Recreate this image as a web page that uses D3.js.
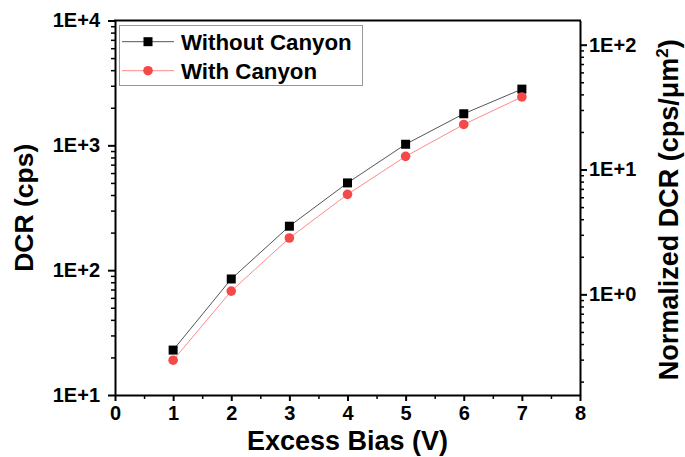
<!DOCTYPE html>
<html><head><meta charset="utf-8">
<script src="https://cdn.jsdelivr.net/npm/d3@7"></script>
<style>body{margin:0;background:#fff}svg{display:block}text{font-family:"Liberation Sans",Arial,sans-serif;font-weight:bold;fill:#000}</style>
</head><body>
<script>
const biasV = [1, 2, 3, 4, 5, 6, 7];
const dcrWithout = [22.9, 85, 225, 500, 1020, 1790, 2820];
const dcrWith = [19.0, 68, 181, 405, 816, 1470, 2440];
const seriesNames = ["Without Canyon", "With Canyon"];
const xTicks = [0, 1, 2, 3, 4, 5, 6, 7, 8];
const leftTicks = [10, 100, 1000, 10000];
const rightTicks = [1, 10, 100];
const areaUm2 = 64;

const W = 685, H = 457;
const m = {l: 115, r: 105, t: 20.5, b: 62};
const svg = d3.select("body").append("svg").attr("width", W).attr("height", H);

const x = d3.scaleLinear().domain([0, 8]).range([m.l, W - m.r]);
const y = d3.scaleLog().domain([10, 10000]).range([H - m.b, m.t]);
const y2 = d3.scaleLog().domain([10 / areaUm2, 10000 / areaUm2]).range([H - m.b, m.t]);

function minorLog(scale) {
  const [a, b] = scale.domain();
  const out = [];
  for (let e = Math.floor(Math.log10(a)); e <= Math.ceil(Math.log10(b)); e++) {
    for (let k = 2; k <= 9; k++) {
      const v = k * Math.pow(10, e);
      if (v >= a && v <= b) out.push(v);
    }
  }
  return out;
}
const fmtE = v => "1E" + (Math.log10(v) >= 0 ? "+" : "") + Math.round(Math.log10(v));

// minor ticks
svg.append("g").attr("transform", `translate(${m.l},0)`)
  .call(d3.axisLeft(y).tickValues(minorLog(y)).tickSize(4).tickFormat(""))
  .call(g => g.select(".domain").remove())
  .selectAll("line").attr("stroke-width", 1.5);
svg.append("g").attr("transform", `translate(${W - m.r},0)`)
  .call(d3.axisRight(y2).tickValues(minorLog(y2)).tickSize(4).tickFormat(""))
  .call(g => g.select(".domain").remove())
  .selectAll("line").attr("stroke-width", 1.5);
svg.append("g").attr("transform", `translate(0,${H - m.b})`)
  .call(d3.axisBottom(x).tickValues(d3.range(0.5, 8, 1)).tickSize(4).tickFormat(""))
  .call(g => g.select(".domain").remove())
  .selectAll("line").attr("stroke-width", 1.5);

// major axes
const gl = svg.append("g").attr("transform", `translate(${m.l},0)`)
  .call(d3.axisLeft(y).tickValues(leftTicks).tickFormat(fmtE).tickSize(7).tickPadding(8).tickSizeOuter(0));
const gr = svg.append("g").attr("transform", `translate(${W - m.r},0)`)
  .call(d3.axisRight(y2).tickValues(rightTicks).tickFormat(fmtE).tickSize(7).tickPadding(2).tickSizeOuter(0));
const gb = svg.append("g").attr("transform", `translate(0,${H - m.b})`)
  .call(d3.axisBottom(x).tickValues(xTicks).tickFormat(d3.format("d")).tickSize(6).tickPadding(5).tickSizeOuter(0));
[gl, gr, gb].forEach(g => {
  g.select(".domain").attr("stroke-width", 2);
  g.selectAll(".tick line").attr("stroke-width", 2);
  g.selectAll("text").style("font-size", "20px").style("font-family", '"Liberation Sans",Arial,sans-serif').style("font-weight", "bold").attr("fill", "#000");
});
// top frame
svg.append("line").attr("x1", m.l - 1).attr("x2", W - m.r + 1).attr("y1", m.t).attr("y2", m.t)
  .attr("stroke", "#000").attr("stroke-width", 2);

// series
const series = [
  {name: seriesNames[0], vals: dcrWithout, line: "#555", fill: "#000", shape: "sq"},
  {name: seriesNames[1], vals: dcrWith, line: "#ff8a8a", fill: "#f54848", shape: "ci"}
];
const lineGen = d3.line().x(d => x(d[0])).y(d => y(d[1]));
series.forEach(s => {
  const pts = biasV.map((v, i) => [v, s.vals[i]]);
  svg.append("path").attr("d", lineGen(pts)).attr("fill", "none").attr("stroke", s.line).attr("stroke-width", 1);
  pts.forEach(p => drawMarker(x(p[0]), y(p[1]), s));
});
function drawMarker(cx, cy, s) {
  if (s.shape === "sq") svg.append("rect").attr("x", cx - 4.5).attr("y", cy - 4.5).attr("width", 9).attr("height", 9).attr("fill", s.fill);
  else svg.append("circle").attr("cx", cx).attr("cy", cy).attr("r", 4.8).attr("fill", s.fill);
}

// legend
svg.append("rect").attr("x", 119.5).attr("y", 25.5).attr("width", 243).attr("height", 60)
  .attr("fill", "#fff").attr("stroke", "#999").attr("stroke-width", 1);
series.forEach((s, i) => {
  const ly = 41.7 + i * 29;
  svg.append("line").attr("x1", 122).attr("x2", 174).attr("y1", ly).attr("y2", ly).attr("stroke", s.line).attr("stroke-width", 1);
  drawMarker(148, ly, s);
  svg.append("text").attr("x", 181).attr("y", ly + 7.8).style("font-size", "22.3px").text(s.name);
});

// axis titles
svg.append("text").attr("x", (m.l + W - m.r) / 2).attr("y", 450).attr("text-anchor", "middle")
  .style("font-size", "27px").text("Excess Bias (V)");
svg.append("text").attr("transform", `translate(33,${(m.t + H - m.b) / 2}) rotate(-90)`).attr("text-anchor", "middle")
  .style("font-size", "26.5px").text("DCR (cps)");
const rt = svg.append("text").attr("transform", `translate(678,${(m.t + H - m.b) / 2 + 2}) rotate(-90)`).attr("text-anchor", "middle")
  .style("font-size", "27px");
rt.append("tspan").text("Normalized DCR (cps/μm");
rt.append("tspan").attr("dy", -10).style("font-size", "17px").text("2");
rt.append("tspan").attr("dy", 10).text(")");
</script>
</body></html>
